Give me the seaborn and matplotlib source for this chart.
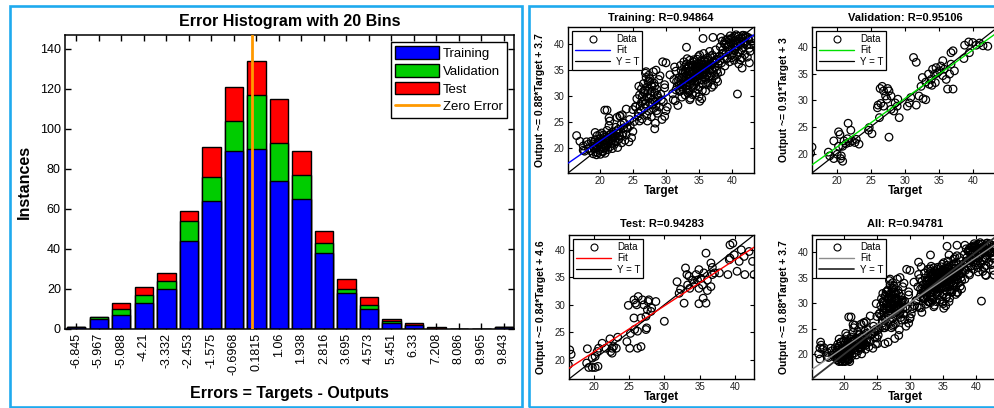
import numpy as np
import pandas as pd
import matplotlib
matplotlib.use("Agg")
import matplotlib.pyplot as plt
import seaborn as sns
from matplotlib.lines import Line2D
from matplotlib.patches import Patch, Rectangle

# ---------------- data ----------------
bin_labels = ['-6.845', '-5.967', '-5.088', '-4.21', '-3.332', '-2.453', '-1.575',
              '-0.6968', '0.1815', '1.06', '1.938', '2.816', '3.695', '4.573',
              '5.451', '6.33', '7.208', '8.086', '8.965', '9.843']
train_counts = [1, 5, 7, 13, 20, 44, 64, 89, 90, 74, 65, 38, 18, 10, 3, 2, 0, 0, 0, 1]
val_counts = [0, 1, 3, 4, 4, 10, 12, 15, 27, 19, 12, 5, 2, 2, 1, 0, 0, 0, 0, 0]
test_counts = [0, 0, 3, 4, 4, 5, 15, 17, 17, 22, 12, 6, 5, 4, 1, 1, 1, 0, 0, 0]
bin_centers = [-6.845, -5.967, -5.088, -4.21, -3.332, -2.453, -1.575, -0.6968, 0.1815,
               1.06, 1.938, 2.816, 3.695, 4.573, 5.451, 6.33, 7.208, 8.086, 8.965, 9.843]

train_pairs = [
    (16.5, 22.4), (17.0, 21.3), (17.5, 20.4), (17.7, 19.4), (18.2, 20.7), (18.7, 21.3),
    (20.75, 27.3), (21.1, 27.3), (21.4, 25.8), (23.0, 26.2), (23.4, 26.4), (24.0, 27.5),
    (24.5, 25.5), (25.0, 27.4), (25.4, 28.0), (25.8, 26.1), (26.0, 25.2), (26.8, 31.2),
    (27.0, 34.7), (27.3, 32.8), (27.8, 32.2), (28.3, 23.7), (28.5, 35.0), (29.1, 33.9),
    (29.5, 36.6), (30.0, 36.4), (29.3, 29.3), (29.8, 32.2), (29.8, 26.1), (30.2, 27.9),
    (31.1, 29.3), (30.6, 34.1), (33.1, 39.4), (33.2, 31.2), (33.3, 30.6), (33.6, 29.3),
    (35.0, 29.9), (35.1, 29.0), (35.6, 41.1), (36.3, 32.2), (36.9, 33.1), (37.8, 32.8),
    (38.3, 34.7), (39.3, 37.3), (38.8, 40.1), (37.1, 41.3), (40.8, 30.4), (41.5, 35.4),
    (42.6, 36.4), (43.2, 40.1), (42.6, 39.2), (42.1, 41.4), (41.6, 41.7), (40.4, 41.5),
    (39.6, 40.8),
    (18.6, 19.5), (18.9, 20.8), (19.0, 18.9), (19.2, 19.8), (19.3, 21.6), (19.4, 20.3),
    (19.5, 18.7), (19.6, 22.4), (19.7, 19.1), (19.8, 20.9), (19.9, 19.6), (20.0, 21.8),
    (20.1, 18.8), (20.2, 20.2), (20.3, 22.9), (20.4, 19.4), (20.5, 21.2), (20.6, 20.0),
    (20.7, 22.1), (20.8, 19.0), (20.9, 21.5), (21.0, 20.6), (21.1, 23.4), (21.2, 19.7),
    (21.3, 22.0), (21.4, 21.0), (21.5, 25.2), (21.6, 20.3), (21.7, 22.7), (21.8, 21.4),
    (21.9, 19.9), (22.0, 23.1), (22.1, 21.9), (22.2, 20.7), (22.3, 22.4), (22.4, 24.0),
    (22.5, 21.2), (22.6, 22.9), (22.7, 20.1), (22.8, 23.6), (22.9, 21.7), (23.0, 22.3),
    (23.2, 24.5), (23.3, 21.0), (23.5, 22.8), (23.6, 23.9), (23.8, 21.5), (24.0, 22.6),
    (24.2, 23.8), (24.4, 21.2), (24.6, 24.3), (24.8, 22.0), (25.0, 23.2), (19.1, 20.1),
    (19.7, 21.0), (20.3, 19.9), (20.8, 20.7), (21.2, 21.3), (21.9, 22.3), (18.3, 19.9),
    (18.0, 21.2), (19.3, 23.0), (20.0, 22.6), (21.4, 24.3), (22.6, 25.9), (23.1, 26.1),
    (17.5, 19.6),
    (19.0, 20.4), (19.4, 19.2), (19.6, 20.6), (19.9, 21.2), (20.1, 20.5), (20.4, 21.8),
    (20.6, 22.5), (20.9, 20.1), (21.1, 21.8), (21.5, 22.6), (21.7, 20.9), (22.0, 22.0),
    (22.3, 21.3), (22.5, 23.3), (22.9, 22.9), (23.4, 22.4), (23.7, 24.8), (24.1, 24.0),
    (20.5, 19.3), (19.2, 21.2),
    (25.2, 25.1), (25.4, 27.9), (25.6, 29.5), (25.8, 26.8), (26.0, 30.2), (26.1, 28.1),
    (26.2, 27.2), (26.3, 31.4), (26.4, 25.6), (26.5, 29.0), (26.6, 32.4), (26.7, 27.7),
    (26.8, 30.6), (26.9, 28.5), (27.0, 33.6), (27.1, 26.3), (27.2, 29.8), (27.3, 31.0),
    (27.4, 27.1), (27.5, 32.9), (27.6, 28.8), (27.7, 30.1), (27.8, 26.0), (27.9, 31.8),
    (28.0, 29.3), (28.1, 27.6), (28.2, 32.5), (28.3, 30.7), (28.4, 24.8), (28.5, 28.2),
    (28.6, 31.3), (28.7, 26.7), (28.8, 29.7), (28.9, 33.2), (29.0, 27.9), (29.2, 30.4),
    (29.4, 25.5), (29.6, 28.9), (29.8, 31.6), (30.0, 27.2), (26.9, 34.4), (27.4, 34.0),
    (28.1, 34.7), (25.9, 31.9), (27.2, 25.2), (28.6, 27.2), (27.8, 30.9), (26.4, 29.9),
    (26.3, 28.8), (26.8, 29.3), (27.1, 31.7), (27.5, 29.6), (27.9, 28.4), (28.3, 31.9),
    (28.7, 30.2), (27.6, 33.3), (26.6, 30.9), (28.4, 29.0),
    (31.0, 30.5), (31.2, 33.2), (31.4, 29.1), (31.5, 34.8), (31.7, 31.9), (31.8, 28.2),
    (32.0, 33.6), (32.1, 30.9), (32.2, 35.9), (32.3, 32.4), (32.4, 29.8), (32.5, 34.4),
    (32.6, 31.3), (32.7, 36.6), (32.8, 33.0), (32.9, 30.2), (33.0, 35.2), (33.1, 32.0),
    (33.2, 37.2), (33.3, 34.0), (33.4, 31.1), (33.5, 35.7), (33.6, 33.4), (33.7, 29.6),
    (33.8, 36.3), (33.9, 32.7), (34.0, 34.9), (34.1, 31.5), (34.2, 37.0), (34.3, 33.8),
    (34.4, 35.4), (34.5, 30.6), (34.6, 36.1), (34.7, 32.9), (34.8, 34.3), (34.9, 37.6),
    (35.0, 31.8), (35.1, 35.0), (35.2, 33.1), (35.3, 36.8), (35.4, 29.5), (35.5, 34.6),
    (35.6, 32.3), (35.7, 38.2), (35.8, 35.9), (35.9, 33.6), (36.0, 31.0), (36.1, 36.5),
    (36.2, 34.1), (36.3, 37.4), (36.4, 32.6), (36.5, 35.2), (36.6, 38.6), (36.7, 33.9),
    (36.8, 36.0), (36.9, 31.7), (37.0, 37.9), (37.1, 34.8), (37.2, 32.1), (37.3, 36.7),
    (37.4, 35.5), (37.5, 38.9), (37.6, 33.3), (37.7, 37.1), (37.8, 34.4), (37.9, 36.2),
    (32.4, 33.7), (33.0, 33.9), (33.6, 34.7), (34.1, 33.5), (34.5, 35.8), (34.9, 34.0),
    (35.3, 34.9), (35.7, 35.3), (36.1, 34.6), (33.2, 32.6), (34.3, 32.2), (35.0, 36.3),
    (33.9, 35.9), (31.6, 32.8), (32.9, 34.6), (34.7, 34.8), (35.9, 37.0), (36.6, 35.7),
    (32.2, 31.1), (31.3, 35.6), (35.4, 33.2), (34.2, 36.6), (33.5, 30.8),
    (31.9, 33.0), (32.3, 34.9), (32.6, 32.2), (32.8, 35.6), (33.0, 31.4), (33.1, 36.2),
    (33.3, 33.2), (33.4, 34.8), (33.6, 36.9), (33.7, 32.4), (33.8, 34.1), (34.0, 30.3),
    (34.1, 36.0), (34.3, 34.6), (34.4, 32.9), (34.6, 33.7), (34.7, 37.1), (34.8, 31.3),
    (35.0, 33.9), (35.1, 37.9), (35.2, 35.6), (35.4, 36.2), (35.5, 31.1), (35.6, 34.1),
    (35.8, 36.6), (36.0, 33.2), (36.2, 35.8), (36.4, 36.9), (36.5, 33.6), (36.7, 37.6),
    (36.9, 35.1), (37.1, 36.4), (37.3, 33.9), (37.5, 37.0), (37.7, 35.0), (32.0, 32.1),
    (32.7, 33.5), (33.4, 35.5), (34.0, 33.3), (34.4, 34.1), (34.8, 35.3), (35.2, 34.4),
    (35.6, 36.0), (36.0, 35.4), (36.3, 36.1), (33.8, 33.0), (34.6, 34.9), (35.5, 35.0),
    (31.5, 31.2), (32.5, 31.7),
    (38.0, 37.6), (38.2, 39.5), (38.4, 36.4), (38.5, 40.6), (38.7, 38.3), (38.9, 35.8),
    (39.0, 39.9), (39.2, 37.2), (39.3, 41.0), (39.5, 38.7), (39.6, 36.6), (39.8, 40.3),
    (39.9, 37.9), (40.0, 39.2), (40.1, 41.3), (40.3, 36.9), (40.4, 38.8), (40.5, 40.7),
    (40.7, 37.7), (40.8, 39.6), (40.9, 41.5), (41.0, 36.2), (41.1, 38.4), (41.2, 40.1),
    (41.4, 41.2), (41.5, 37.3), (41.6, 39.3), (41.8, 40.6), (41.9, 38.0), (42.0, 41.6),
    (42.2, 39.8), (42.3, 37.5), (42.5, 40.9), (42.7, 38.6), (42.9, 41.0), (39.4, 39.5),
    (40.2, 40.0), (41.3, 39.9), (38.6, 38.9), (39.7, 41.6), (40.6, 41.8), (41.7, 41.7),
    (40.0, 37.4), (38.3, 41.3), (39.1, 38.4),
    (38.1, 36.8), (38.8, 37.1), (39.5, 39.9), (40.2, 38.3), (40.7, 40.2), (41.0, 41.0),
    (41.4, 38.9), (41.9, 40.2), (42.4, 41.3), (42.8, 39.9), (39.0, 40.7), (40.5, 39.4),
    (41.2, 37.0), (38.5, 38.2), (39.8, 41.0),
]

val_pairs = [
    (16.4, 21.25), (16.2, 20.1), (18.8, 20.3), (19.0, 19.6), (19.6, 19.1), (20.1, 19.9),
    (20.6, 19.1), (20.9, 18.6), (20.7, 19.6), (20.3, 21.4), (20.5, 23.6), (20.3, 24.1),
    (19.6, 22.4), (21.1, 22.4), (21.6, 22.8), (21.7, 25.7), (22.1, 24.4), (22.3, 22.4),
    (22.7, 22.1), (22.9, 22.7), (23.3, 21.8), (21.4, 21.9), (20.9, 21.4), (21.9, 22.1),
    (24.7, 24.4), (24.8, 24.9), (25.2, 23.75), (27.7, 23.1), (26.3, 26.75), (26.0, 28.6),
    (26.1, 29.1), (26.5, 29.4), (26.4, 32.2), (26.7, 32.6), (26.9, 31.75), (27.2, 30.8),
    (26.9, 28.9), (27.4, 30.2), (27.5, 32.2), (27.7, 31.75), (28.0, 30.8), (28.0, 28.3),
    (28.4, 28.0), (28.9, 28.9), (29.0, 30.2), (29.2, 26.75), (28.6, 29.5), (30.4, 28.9),
    (30.7, 29.5), (30.9, 30.5), (31.3, 38.0), (31.7, 37.1), (31.7, 29.1), (32.1, 30.8),
    (32.4, 32.6), (32.7, 30.3), (33.1, 30.1), (32.6, 34.25), (33.1, 33.4), (33.5, 34.9),
    (33.9, 33.9), (34.1, 35.8), (34.4, 34.9), (34.6, 36.1), (34.8, 35.1), (35.1, 35.5),
    (35.3, 36.4), (35.6, 34.6), (35.8, 35.8), (35.6, 37.4), (36.1, 33.9), (36.3, 32.1),
    (36.6, 34.9), (36.8, 36.75), (36.8, 38.9), (37.1, 32.1), (37.3, 35.5), (37.1, 39.25),
    (34.0, 32.8), (34.5, 33.3), (33.6, 33.0), (38.8, 40.3), (39.5, 38.9), (40.0, 40.8),
    (40.5, 40.3), (41.0, 40.7), (41.5, 40.2), (42.2, 40.1), (38.7, 37.8), (39.4, 40.9),
]

test_pairs = [
    (16.6, 21.8), (16.8, 21.0), (16.4, 19.1), (19.1, 22.0), (19.0, 19.4), (19.3, 18.6),
    (19.8, 18.6), (20.2, 18.6), (20.6, 18.8), (19.8, 20.3), (20.2, 20.6), (20.5, 21.5),
    (20.7, 22.1), (21.2, 23.0), (21.7, 22.1), (22.3, 23.8), (22.4, 21.5), (22.6, 22.1),
    (22.8, 22.4), (23.2, 22.1), (23.4, 24.1), (22.6, 21.2), (24.7, 23.3), (25.1, 22.1),
    (25.2, 24.8), (24.9, 29.9), (25.7, 30.9), (25.9, 30.3), (26.1, 30.0), (26.3, 31.5),
    (25.7, 27.6), (25.8, 25.5), (26.2, 25.2), (26.2, 22.1), (26.7, 22.4), (26.9, 30.9),
    (27.1, 30.0), (27.4, 27.9), (27.5, 25.8), (27.6, 29.1), (27.7, 30.6), (27.8, 30.9),
    (28.1, 28.8), (28.2, 29.4), (28.8, 30.6), (27.4, 25.5), (26.7, 27.6), (30.0, 27.0),
    (31.8, 34.2), (32.1, 32.1), (32.3, 32.8), (32.8, 30.3), (33.0, 36.7), (33.2, 35.5),
    (33.3, 33.6), (33.5, 35.2), (33.6, 33.0), (34.0, 34.5), (34.2, 33.9), (34.5, 35.5),
    (34.7, 34.5), (34.9, 33.0), (34.9, 36.4), (35.2, 34.8), (35.4, 33.6), (34.9, 30.2),
    (35.5, 31.2), (35.9, 30.3), (35.6, 35.8), (36.1, 34.5), (36.1, 32.6), (36.6, 33.3),
    (36.6, 37.6), (36.8, 35.5), (36.8, 36.8), (37.1, 35.8), (35.9, 39.4), (37.8, 35.8),
    (39.0, 35.5), (39.3, 40.9), (39.7, 41.2), (39.2, 38.2), (39.9, 39.1), (40.3, 36.1),
    (40.6, 37.9), (40.9, 40.0), (41.3, 38.8), (41.4, 35.5), (42.5, 37.9), (42.7, 35.5),
    (42.0, 39.7), (39.3, 38.5),
]

panel_names = ['Training', 'Validation', 'Test', 'All']
r_values = ['0.94864', '0.95106', '0.94283', '0.94781']
fit_slopes = [0.88, 0.91, 0.84, 0.88]
fit_intercepts = [3.7, 3, 4.6, 3.7]
fit_labels = ['0.88', '0.91', '0.84', '0.88']
icpt_labels = ['3.7', '3', '4.6', '3.7']
axis_limits = [(15.2, 43.3), (16.4, 43.7), (16.5, 42.7), (15.2, 43.3)]
fit_colors = ['#0000FF', '#00E000', '#FF0000', '#8C8C8C']

# ---------------- style ----------------
sns.set_theme(style="white")
plt.rcParams['font.family'] = ['Liberation Sans', 'DejaVu Sans']
plt.rcParams['axes.edgecolor'] = 'black'
plt.rcParams['text.color'] = 'black'
plt.rcParams['axes.labelcolor'] = 'black'

W, H = 995, 408
fig = plt.figure(figsize=(W / 100, H / 100), dpi=100)


def px_axes(left, top, right, bottom):
    return fig.add_axes([left / W, 1 - bottom / H, (right - left) / W, (bottom - top) / H])


# panel borders
border_col = '#1FAAEE'
for (x0, y0, x1, y1) in [(9.5, 6, 522.5, 406.5), (528.5, 6, 1003, 406.5)]:
    fig.patches.append(Rectangle((x0 / W, 1 - y1 / H), (x1 - x0) / W, (y1 - y0) / H,
                                 transform=fig.transFigure, fill=False,
                                 edgecolor=border_col, linewidth=1.9, zorder=0))

# ---------------- histogram ----------------
axh = px_axes(65, 35, 514, 328.5)
df = pd.DataFrame({'bin': bin_labels, 'train': train_counts,
                   'val': val_counts, 'test': test_counts})
df['tv'] = df['train'] + df['val']
df['total'] = df['tv'] + df['test']
for col, c in [('total', '#FF0000'), ('tv', '#00CC00'), ('train', '#0000FF')]:
    sns.barplot(data=df, x='bin', y=col, order=bin_labels, color=c, saturation=1,
                width=0.82, edgecolor='black', linewidth=1.0, ax=axh)

zero_pos = (0 - bin_centers[0]) / (bin_centers[1] - bin_centers[0])
axh.axvline(zero_pos, color='#FF9900', lw=2.0, zorder=5)

axh.set_xlim(-0.5, 19.45)
axh.set_ylim(0, 147)
axh.set_yticks(range(0, 141, 20))
axh.set_xticks(range(len(bin_labels)))
axh.set_xticklabels(bin_labels, rotation=90, va='top', ha='center')
axh.tick_params(direction='in', length=4, width=1, labelsize=9, pad=3,
                top=True, right=True, bottom=True, left=True, colors='black')
for s in axh.spines.values():
    s.set_linewidth(1.1)
    s.set_color('black')
axh.set_title('Error Histogram with 20 Bins', fontsize=11.5, fontweight='bold', pad=6.8)
axh.set_xlabel('Errors = Targets - Outputs', fontsize=11.5, fontweight='bold')
axh.set_ylabel('Instances', fontsize=11.5, fontweight='bold')
axh.xaxis.set_label_coords(0.5, -0.196)
axh.yaxis.set_label_coords(-0.074, 0.5)

hist_handles = [Patch(facecolor='#0000FF', edgecolor='black', lw=1),
                Patch(facecolor='#00CC00', edgecolor='black', lw=1),
                Patch(facecolor='#FF0000', edgecolor='black', lw=1),
                Line2D([0], [0], color='#FF9900', lw=2)]
leg = axh.legend(hist_handles, ['Training', 'Validation', 'Test', 'Zero Error'],
                 loc='upper right', fontsize=9.5, frameon=True, fancybox=False,
                 edgecolor='black', framealpha=1, handlelength=3.3, handleheight=1.1,
                 labelspacing=0.3, borderaxespad=0.5, borderpad=0.35,
                 handletextpad=0.3)
leg.get_frame().set_linewidth(1.0)

# ---------------- regression panels ----------------
train_arr = np.array(train_pairs)
val_arr = np.array(val_pairs)
test_arr = np.array(test_pairs)
all_arr = np.vstack([train_arr, val_arr, test_arr])
panel_data = [train_arr, val_arr, test_arr, all_arr]
panel_boxes = [(568, 27, 754, 173), (812, 27, 998, 173),
               (569, 235, 754, 379), (812, 235, 998, 379)]

for i in range(4):
    ax = px_axes(*panel_boxes[i])
    data = panel_data[i]
    lo, hi = axis_limits[i]
    sns.scatterplot(x=data[:, 0], y=data[:, 1], ax=ax, marker='o', s=30,
                    linewidth=0.9, zorder=2)
    coll = ax.collections[-1]
    coll.set_facecolor('none')
    coll.set_edgecolor('black')
    xs = np.array([lo, hi])
    yt_col = '#333333' if i == 3 else 'black'
    yt_lw = 1.3 if i == 3 else 0.9
    sns.lineplot(x=xs, y=fit_slopes[i] * xs + fit_intercepts[i], ax=ax,
                 color=fit_colors[i], lw=1.0, zorder=4)
    sns.lineplot(x=xs, y=xs, ax=ax, color=yt_col, lw=yt_lw, zorder=3)
    ax.set_xlim(lo, hi)
    ax.set_ylim(lo, hi)
    ax.set_xticks([20, 25, 30, 35, 40])
    ax.set_yticks([20, 25, 30, 35, 40])
    ax.tick_params(direction='in', length=3, width=0.8, labelsize=7, pad=2.5,
                   top=True, right=True, bottom=True, left=True,
                   colors='black', labelcolor='#222222')
    for s in ax.spines.values():
        s.set_linewidth(1.0)
        s.set_color('black')
    ax.set_title(f'{panel_names[i]}: R={r_values[i]}', fontsize=8, fontweight='bold',
                 pad=4.6 if i < 2 else 5.6)
    ax.set_xlabel('Target', fontsize=8.5, fontweight='bold')
    ax.set_ylabel(f'Output ~= {fit_labels[i]}*Target + {icpt_labels[i]}',
                  fontsize=7.5, fontweight='bold')
    ax.xaxis.set_label_coords(0.5, -0.082)
    ax.yaxis.set_label_coords(-0.125, 0.5)
    handles = [Line2D([0], [0], ls='none', marker='o', mfc='none', mec='black',
                      ms=5, mew=0.8),
               Line2D([0], [0], color=fit_colors[i], lw=1.0),
               Line2D([0], [0], color=yt_col, lw=yt_lw)]
    lg = ax.legend(handles, ['Data', 'Fit', 'Y = T'], loc='upper left', fontsize=7,
                   frameon=True, fancybox=False, edgecolor='black', framealpha=1,
                   handlelength=3.6, labelspacing=0.12, borderpad=0.3,
                   borderaxespad=0.45, handletextpad=0.6)
    lg.get_frame().set_linewidth(0.9)

fig.savefig('out.png', dpi=100)
